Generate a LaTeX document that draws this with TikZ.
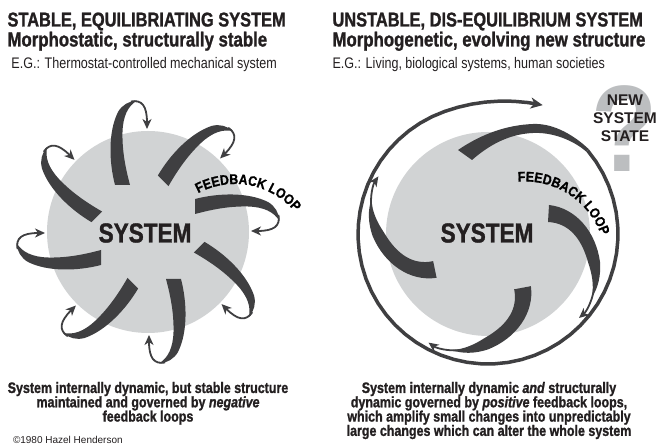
\documentclass[tikz,border=0pt]{standalone}
\usepackage{fontspec}
\setmainfont{Liberation Sans}
\newfontfamily\condf{Liberation Sans}[FakeStretch=0.82]
\newfontfamily\condb{Liberation Sans Bold}[FakeStretch=0.82, FakeBold=1.2, ItalicFont={Liberation Sans Bold Italic}, ItalicFeatures={FakeStretch=0.82, FakeBold=1.2}]
\newfontfamily\fbf{Liberation Sans Bold}[FakeStretch=0.88, FakeBold=1]
\newfontfamily\qmf{Liberation Sans Bold}[FakeStretch=0.88]
\usetikzlibrary{arrows.meta,decorations.text}
\definecolor{band}{HTML}{3F3F41}
\definecolor{disc}{HTML}{D1D3D4}
\definecolor{ink}{HTML}{231F20}
\definecolor{qgrey}{HTML}{BCBEC0}
\newcommand\ttlfont{\condb\fontsize{20}{20}\selectfont}
\newcommand\subfont{\condb\fontsize{20.5}{20.5}\selectfont}
\newcommand\egfont{\condf\fontsize{15.3}{15.3}\selectfont}
\newcommand\capfont{\condb\fontsize{15.2}{15.2}\selectfont}
\newcommand\sysfont{\condb\fontsize{27.5}{27.5}\selectfont}
\newcommand\fbfont{\fbf\fontsize{14}{14}\selectfont}
\newcommand\negloop[2]{%
 \begin{scope}[shift={(148,214)}, rotate=#2]
  \fill[bandfill] (-33,47) .. controls (-39,70) and (-40,100) .. (-30,120)
     .. controls (-26,127) and (-19,131) .. (-11,131.5)
     .. controls (-20,126) and (-25,116) .. (-25.5,100)
     .. controls (-26,80) and (-22,62) .. (-18,47) -- cycle;
  \coordinate (n#1s) at (-17,130.5);
  \coordinate (n#1t) at (-1,103);
  \draw[loopline] (n#1s) .. controls (-6,132.5) and (-1,126) .. (n#1t);
 \end{scope}}
\newcommand\posloop[2]{%
 \begin{scope}[shift={(488,212)}, rotate=#2]
  \fill[bandfill] (61,29) .. controls (88,26) and (108,2) .. (112,-28)
     .. controls (113,-42) and (110,-54) .. (104,-63)
     .. controls (106,-50) and (104,-40) .. (100,-28)
     .. controls (93,-3) and (80,11) .. (60,12) -- cycle;
  \coordinate (p#1s) at (106,-55);
  \coordinate (p#1t) at (91,-84);
  \draw[loopline] (p#1s) .. controls (104,-68) and (98,-78) .. (p#1t);
 \end{scope}}
\begin{document}
\begin{tikzpicture}[x=1pt,y=1pt,
  bandfill/.style={fill=band, draw=none},
  loopline/.style={draw=band, line width=1.8pt, -{Stealth[length=10pt,width=9pt,inset=3pt]}},
  ringline/.style={draw=band, line width=3.5pt, -{Stealth[length=12pt,width=11pt,inset=3.5pt]}},
  txt/.style={inner sep=0pt, outer sep=0pt, text=ink},
  declare function={ringr(\a)=130+10*(max(0,(-250-\a)/43))^2;}]
\useasboundingbox (0,0) rectangle (658,446);
\fill[white] (0,0) rectangle (658,446);
% discs
\node[circle, fill=disc, draw=none, minimum size=202pt, inner sep=0pt] (ldisc) at (148,214) {};
\node[circle, fill=disc, draw=none, minimum size=204pt, inner sep=0pt] (rdisc) at (488,212) {};
% question mark
\node[txt, text=qgrey, anchor=base west, font=\qmf\fontsize{123}{123}\selectfont] (qmark) at (591.5,274) {?};
% left negative feedback loops
\foreach \r/\n in {0/a,-45/b,-90/c,-135/d,-180/e,-225/f,90/g,45/h} {\negloop{\n}{\r}}
% right positive feedback loops
\foreach \r/\n in {0/a,-76/b,-165/c} {\posloop{\n}{\r}}
% big outward spiral
\begin{scope}[shift={(488,212)}]
  \fill[bandfill] (-30,84) .. controls (-5,101) and (20,109) .. (45,110)
     .. controls (67,111) and (88,97) .. (100.9,84.7) -- (98.2,82.4)
     .. controls (85,94) and (64,102) .. (45,101)
     .. controls (20,100) and (0,88) .. (-16,74) -- cycle;
  \draw[ringline] plot[domain=0:333, samples=56, variable=\t] ({40-\t}:{ringr(40-\t)});
\end{scope}
% titles
\node[txt, anchor=base west, font=\ttlfont] (lt1) at (7.5,419.5) {STABLE, EQUILIBRIATING SYSTEM};
\node[txt, anchor=base west, font=\subfont] (lt2) at (7.5,399.5) {Morphostatic, structurally stable};
\node[txt, anchor=base west, font=\egfont] (lt3) at (11.5,377.7) {E.G.: Thermostat-controlled mechanical system};
\node[txt, anchor=base west, font=\ttlfont] (rt1) at (332.5,419.5) {UNSTABLE, DIS-EQUILIBRIUM SYSTEM};
\node[txt, anchor=base west, font=\subfont] (rt2) at (332.5,399.5) {Morphogenetic, evolving new structure};
\node[txt, anchor=base west, font=\egfont] (rt3) at (332.5,377.7) {E.G.: Living, biological systems, human societies};
% SYSTEM labels
\node[txt, font=\sysfont] (lsys) at (145,213) {SYSTEM};
\node[txt, font=\sysfont] (rsys) at (487,213) {SYSTEM};
% feedback loop labels
\path[decorate, decoration={text along path, text={|\fbfont|FEEDBACK LOOP}, text align=center}]
  (235,184) ++(128:78) arc[start angle=128, end angle=30, radius=78];
\path[decorate, decoration={text along path, text={|\fbfont|FEEDBACK LOOP}, text align=center}]
  (525,184) ++(107:80.5) arc[start angle=107, end angle=7, radius=80.5];
% new system state
\node[txt, anchor=base, font=\bfseries\fontsize{15.5}{15.5}\selectfont] (ns1) at (625,340) {NEW};
\node[txt, anchor=base, font=\bfseries\fontsize{15.5}{15.5}\selectfont] (ns2) at (625,322) {SYSTEM};
\node[txt, anchor=base, font=\bfseries\fontsize{15.5}{15.5}\selectfont] (ns3) at (625,304) {STATE};
% captions
\node[txt, anchor=base, font=\capfont] (lc1) at (148,53) {System internally dynamic, but stable structure};
\node[txt, anchor=base, font=\capfont] (lc2) at (148,38.7) {maintained and governed by \textit{negative}};
\node[txt, anchor=base, font=\capfont] (lc3) at (148,24.4) {feedback loops};
\node[txt, anchor=base, font=\capfont] (rc1) at (489,53) {System internally dynamic \textit{and} structurally};
\node[txt, anchor=base, font=\capfont] (rc2) at (489,38.7) {dynamic governed by \textit{positive} feedback loops,};
\node[txt, anchor=base, font=\capfont] (rc3) at (489,24.4) {which amplify small changes into unpredictably};
\node[txt, anchor=base, font=\capfont] (rc4) at (489,10.1) {large changes which can alter the whole system};
\node[txt, anchor=base west, font=\fontsize{10}{10}\selectfont] (copy) at (13,2.5) {\textcopyright1980 Hazel Henderson};
\end{tikzpicture}
\end{document}
